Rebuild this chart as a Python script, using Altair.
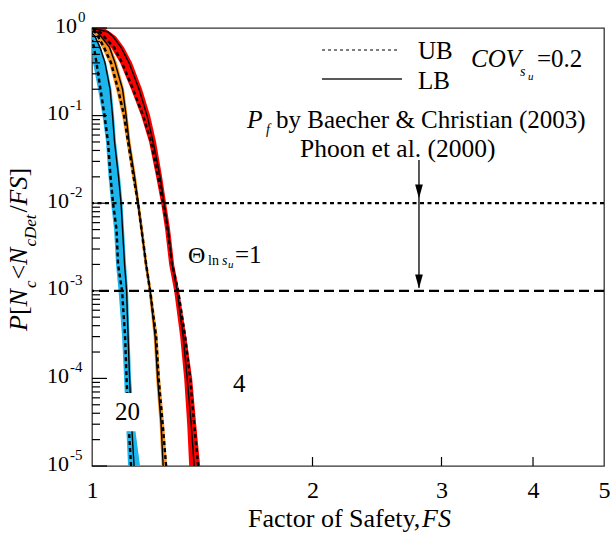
import altair as alt
import pandas as pd

FONT = "Liberation Serif"
W, H = 512, 438

# probability levels (y) shared by the read-off curves
P_LEVELS = [1, 0.9, 0.8, 0.6, 0.4, 0.2, 0.1, 0.05, 0.02, 0.01, 0.005, 0.002,
            0.001, 3e-4, 1e-4, 3e-5, 1e-5]

# Theta = 1 (red)
RED_LB = [1.0, 1.0517, 1.0684, 1.0956, 1.1236, 1.1595, 1.1891, 1.2118, 1.2388, 1.2545,
          1.2704, 1.2865, 1.3069, 1.3319, 1.3488, 1.3659, 1.3788]
RED_UB = [1.0, 1.0255, 1.0385, 1.0718, 1.0991, 1.1378, 1.1742, 1.2041, 1.2311, 1.2506,
          1.2684, 1.2865, 1.3110, 1.3403, 1.3616, 1.3788, 1.3962]
RED_LO = [1.0, 1.0159, 1.0288, 1.0617, 1.0922, 1.1307, 1.1668, 1.1966, 1.2233, 1.2427,
          1.2585, 1.2744, 1.2946, 1.3193, 1.3361, 1.3488, 1.3573]
RED_HI = [1.0385, 1.0584, 1.0785, 1.1061, 1.1342, 1.1705, 1.2004, 1.2233, 1.2466, 1.2624,
          1.2784, 1.2946, 1.3152, 1.3446, 1.3701, 1.3875, 1.4050]

# Theta = 4 (orange)
ORANGE_LB = [1.0, 1.0159, 1.0288, 1.0567, 1.0751, 1.1008, 1.1131, 1.1236, 1.1432, 1.1558,
             1.1686, 1.1853, 1.2004, 1.2195, 1.2292, 1.2427, 1.2506]
ORANGE_UB_P = [0.949] + P_LEVELS[1:]
ORANGE_UB = [1.0, 1.0095, 1.0191, 1.0385, 1.0617, 1.0853, 1.1061, 1.1201, 1.1396, 1.1558,
             1.1686, 1.1853, 1.2004, 1.2233, 1.2330, 1.2486, 1.2624]
ORANGE_LO = [1.0, 1.0032, 1.0127, 1.0320, 1.0550, 1.0785, 1.0991, 1.1148, 1.1342, 1.1504,
             1.1631, 1.1797, 1.1947, 1.2137, 1.2233, 1.2369, 1.2447]
ORANGE_HI = [1.0063, 1.0223, 1.0353, 1.0617, 1.0819, 1.1061, 1.1184, 1.1289, 1.1486, 1.1613,
             1.1742, 1.1910, 1.2061, 1.2292, 1.2388, 1.2545, 1.2664]

# Theta = 20 (blue)
BLUE_BAND_P = P_LEVELS[2:]
BLUE_LO = [1.0, 1.0, 1.0032, 1.0191, 1.0336, 1.0451, 1.0534, 1.0617, 1.0718, 1.0785,
           1.0870, 1.0991, 1.1061, 1.1131, 1.1201]
BLUE_HI = [1.0111, 1.0288, 1.0451, 1.0634, 1.0718, 1.0785, 1.0922, 1.1008, 1.1061, 1.1131,
           1.1201, 1.1254, 1.1307, 1.1432, 1.1631]
BLUE_LB_P = [0.877] + P_LEVELS[2:]
BLUE_LB = [1.0, 1.0095, 1.0255, 1.0418, 1.0584, 1.0667, 1.0734, 1.0870, 1.0956, 1.1008,
           1.1078, 1.1148, 1.1201, 1.1254, 1.1325, 1.1414]
BLUE_UB_P = [0.729] + P_LEVELS[3:]
BLUE_UB = [1.0, 1.0063, 1.0143, 1.0271, 1.0402, 1.0517, 1.0600, 1.0684, 1.0802, 1.0853,
           1.0991, 1.1096, 1.1148, 1.1219, 1.1307]

CURVES = ["blue", "orange", "red"]
COLORS = ["#1DB6EC", "#F7931E", "#FF0000"]

# reference probabilities of failure and arrow
PF_LINES = [0.01, 0.001]
ARROW_FS = 2.795
ARROW_P = [0.0311, 0.00108]
ARROW_HEADS_P = [0.0136, 0.00128]

# box hiding the curve behind the "20" label (FS, P)
LABEL_BOX_FS = [1.0684, 1.1742]
LABEL_BOX_P = [6.8e-5, 2.5e-5]

Y_MAJOR = [1e-5, 1e-4, 1e-3, 1e-2, 1e-1, 1.0]
Y_EXP = [-5, -4, -3, -2, -1, 0]
Y_MINOR = [k * 10.0 ** e for e in range(-5, 0) for k in range(2, 10)]
X_TICKS = [2, 3, 4]
X_LABELS = [1, 2, 3, 4, 5]

# ---------------------------------------------------------------- data frames
bands = pd.concat([
    pd.DataFrame({"curve": "blue", "P": BLUE_BAND_P, "lo": BLUE_LO, "hi": BLUE_HI}),
    pd.DataFrame({"curve": "orange", "P": P_LEVELS, "lo": ORANGE_LO, "hi": ORANGE_HI}),
    pd.DataFrame({"curve": "red", "P": P_LEVELS, "lo": RED_LO, "hi": RED_HI}),
])
lb_lines = pd.concat([
    pd.DataFrame({"curve": "blue", "P": BLUE_LB_P, "FS": BLUE_LB}),
    pd.DataFrame({"curve": "orange", "P": P_LEVELS, "FS": ORANGE_LB}),
    pd.DataFrame({"curve": "red", "P": P_LEVELS, "FS": RED_LB}),
])
ub_lines = pd.concat([
    pd.DataFrame({"curve": "blue", "P": BLUE_UB_P, "FS": BLUE_UB}),
    pd.DataFrame({"curve": "orange", "P": ORANGE_UB_P, "FS": ORANGE_UB}),
    pd.DataFrame({"curve": "red", "P": P_LEVELS, "FS": RED_UB}),
])

xs = alt.Scale(type="log", domain=[1, 5], nice=False)
ys = alt.Scale(type="log", domain=[1e-5, 1], nice=False)
xaxis = alt.Axis(values=X_LABELS, title=None, tickSize=0, domain=False, grid=False,
                 labelFont=FONT, labelFontSize=24, labelColor="black", labelPadding=12,
                 format="~g", labelFlush=False, labelOverlap=False)

def X(f):
    return alt.X(f, scale=xs, axis=xaxis)

def Y(f):
    return alt.Y(f, scale=ys, axis=None)

band_layer = alt.Chart(bands).mark_area(orient="horizontal", clip=True).encode(
    y=Y("P:Q"), x=X("lo:Q"), x2="hi:Q",
    color=alt.Color("curve:N", scale=alt.Scale(domain=CURVES, range=COLORS), legend=None),
)
lb_layer = alt.Chart(lb_lines).mark_line(color="black", strokeWidth=1.4, clip=True).encode(
    y=Y("P:Q"), x=X("FS:Q"), detail="curve:N", order="P:Q")
ub_layer = alt.Chart(ub_lines).mark_line(color="black", strokeWidth=2.4, strokeDash=[4, 3],
                                         clip=True).encode(
    y=Y("P:Q"), x=X("FS:Q"), detail="curve:N", order="P:Q")

box = alt.Chart(pd.DataFrame({"x": [LABEL_BOX_FS[0]], "x2": [LABEL_BOX_FS[1]],
                              "y": [LABEL_BOX_P[0]], "y2": [LABEL_BOX_P[1]]})).mark_rect(
    color="white").encode(x=X("x:Q"), x2="x2:Q", y=Y("y:Q"), y2="y2:Q")

pf_dot = alt.Chart(pd.DataFrame({"P": [PF_LINES[0]]})).mark_rule(
    color="black", strokeWidth=2.2, strokeDash=[4, 3.5]).encode(y=Y("P:Q"))
pf_dash = alt.Chart(pd.DataFrame({"P": [PF_LINES[1]]})).mark_rule(
    color="black", strokeWidth=2.2, strokeDash=[10, 5]).encode(y=Y("P:Q"))

arrow = alt.Chart(pd.DataFrame({"FS": [ARROW_FS], "P": [ARROW_P[0]], "P2": [ARROW_P[1]]})).mark_rule(
    color="black", strokeWidth=1.3).encode(x=X("FS:Q"), y=Y("P:Q"), y2="P2:Q")
heads = alt.Chart(pd.DataFrame({"FS": [ARROW_FS] * 2, "P": ARROW_HEADS_P})).mark_point(
    shape="M-0.55,-1L0.55,-1L0,1Z", size=196, filled=True, color="black", opacity=1).encode(
    x=X("FS:Q"), y=Y("P:Q"))

# ticks (inward)
ymaj = alt.Chart(pd.DataFrame({"v": Y_MAJOR})).mark_rule(color="black", strokeWidth=1.2).encode(
    y=Y("v:Q"), x=alt.value(0), x2=alt.value(15))
ymin = alt.Chart(pd.DataFrame({"v": Y_MINOR})).mark_rule(color="black", strokeWidth=1.2).encode(
    y=Y("v:Q"), x=alt.value(0), x2=alt.value(8))
xtk = alt.Chart(pd.DataFrame({"v": X_TICKS})).mark_rule(color="black", strokeWidth=1.2).encode(
    x=X("v:Q"), y=alt.value(H), y2=alt.value(H - 9))

# y tick labels 10^k
ylab = pd.DataFrame({"v": Y_MAJOR, "e": Y_EXP})
ylab["base"] = "10"
ylab["sup"] = ylab["e"].astype(str)
lab_layers = []
for cond, xpos in [("datum.e == 0", -15), ("datum.e < 0", -23)]:
    lab_layers.append(alt.Chart(ylab).transform_filter(cond).mark_text(
        font=FONT, fontSize=22, align="right", baseline="alphabetic", dy=4.5, color="black").encode(
        y=Y("v:Q"), x=alt.value(xpos), text="base:N"))
    lab_layers.append(alt.Chart(ylab).transform_filter(cond).mark_text(
        font=FONT, fontSize=15, align="left", baseline="alphabetic", dy=-6, color="black").encode(
        y=Y("v:Q"), x=alt.value(xpos + 1), text="sup:N"))

def txt(t, x, y, size=25, italic=False, align="left", angle=None):
    kw = dict(font=FONT, fontSize=size, align=align, baseline="alphabetic", color="black")
    if italic:
        kw["fontStyle"] = "italic"
    if angle is not None:
        kw["angle"] = angle
    return alt.Chart(pd.DataFrame({"t": [t]})).mark_text(**kw).encode(
        x=alt.value(x), y=alt.value(y), text="t:N")

texts = [
    # legend
    txt("UB", 326, 30.5), txt("LB", 326, 60.5),
    txt("COV", 379, 39, italic=True), txt("s", 428, 48, 14, True), txt("u", 436, 52, 11, True),
    txt("=0.2", 445, 39),
    # Pf annotation
    txt("P", 155, 100, 25.5, True), txt("f", 174, 106, 14, True),
    txt("by Baecher & Christian (2003)", 184, 100, 25),
    txt("Phoon et al. (2000)", 208, 129, 25.5),
    # theta labels
    txt("\u0398", 96, 235, 24), txt("ln", 116, 237, 14), txt("s", 130, 237, 14, True),
    txt("u", 136, 240, 11, True), txt("=1", 143, 235, 25),
    txt("4", 141, 364, 25), txt("20", 23, 392, 25),
    # x title
    txt("Factor of Safety,", 156, 499, 26), txt("FS", 330, 499, 26, True),
]
# y title pieces (rotated)
YB, YS = -65, -56
for t, start, size, it, base in [
    ("P", 303, 26, True, YB), ("[", 287.1, 26, False, YB), ("N", 278.4, 26, True, YB),
    ("c", 260.1, 17, True, YS), ("<", 251.6, 26, False, YB), ("N", 236.9, 26, True, YB),
    ("cDet", 218.6, 17, True, YS), ("/", 184.6, 26, False, YB), ("FS", 177.4, 26, True, YB),
    ("]", 148.5, 26, False, YB)]:
    texts.append(txt(t, base, start, size, it, angle=270))

legend_lines = [
    alt.Chart(pd.DataFrame({"a": [0]})).mark_rule(color="black", strokeWidth=1.2,
                                                  strokeDash=[3, 3]).encode(
        x=alt.value(230), x2=alt.value(306), y=alt.value(22)),
    alt.Chart(pd.DataFrame({"a": [0]})).mark_rule(color="#222", strokeWidth=1.3).encode(
        x=alt.value(230), x2=alt.value(310), y=alt.value(51)),
]

chart = alt.layer(
    band_layer, ub_layer, lb_layer, box, pf_dot, pf_dash, arrow, heads,
    ymaj, ymin, xtk, *lab_layers, *legend_lines, *texts
).properties(
    width=W, height=H, autosize="none",
    padding={"left": 92, "top": 28, "right": 7, "bottom": 72},
).configure_view(stroke="#333", strokeWidth=1.3)

chart.save("out.html", embed_options={"renderer": "svg", "actions": False})
